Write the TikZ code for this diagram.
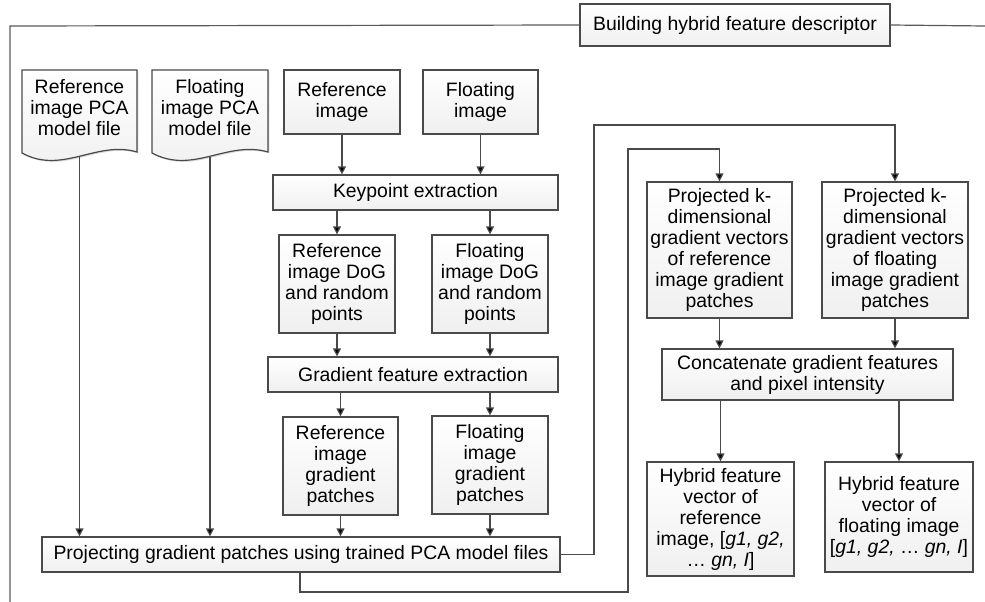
\documentclass[tikz,border=0pt]{standalone}
\usepackage{fontspec}
\setmainfont{Liberation Sans}
\usetikzlibrary{arrows.meta,shadows,calc}
\definecolor{linec}{HTML}{4A4A4A}
\definecolor{framec}{HTML}{5A5A5A}
\newcommand\dfont{\fontsize{19.4}{21}\selectfont}
\begin{document}
\begin{tikzpicture}[x=1pt,y=-1pt,
  shadowsty/.style={drop shadow={shadow xshift=1.4pt, shadow yshift=-1.4pt, opacity=0.25, fill=black!60}},
  box/.style={draw=linec, line width=1.2pt, top color=white, bottom color=black!6, shadowsty,
    align=center, inner sep=0pt, font=\dfont},
  docsty/.style={draw=linec, line width=1.2pt, top color=white, bottom color=black!6, shadowsty},
  txt/.style={align=center, inner sep=0pt, font=\dfont},
  arr/.style={draw=linec, line width=1.2pt, -{Triangle[length=8pt,width=8pt,fill=black]}},
  frame/.style={draw=framec, line width=1.2pt}]
\useasboundingbox (0,0) rectangle (985,602);

% title and frame
\node[box, minimum width=310pt, minimum height=42pt] (title) at (735,25) {Building hybrid feature descriptor};
\draw[frame] (985,26) -- (title.east);
\draw[frame] (title.west) -- (10,26) -- (10,602);

% document shapes
\path[docsty] (22,70) -- (137,70) -- (137,152) .. controls (97,140) and (62,175) .. (22,153) -- cycle;
\node[txt] (refpca) at (79.5,108) {Reference\\image PCA\\model file};
\coordinate (refpcab) at (79.5,157);
\path[docsty] (152,70) -- (268,70) -- (268,152) .. controls (227,140) and (193,175) .. (152,153) -- cycle;
\node[txt] (fltpca) at (210,108) {Floating\\image PCA\\model file};
\coordinate (fltpcab) at (210,157);

% left column
\node[box, minimum width=116pt, minimum height=64pt] (refimg) at (342,102) {Reference\\image};
\node[box, minimum width=115pt, minimum height=64pt] (fltimg) at (480.5,102) {Floating\\image};
\node[box, minimum width=285pt, minimum height=35pt] (keyp) at (415.5,192.5) {Keypoint extraction};
\node[box, minimum width=116pt, minimum height=98pt] (refdog) at (337,284) {Reference\\image DoG\\and random\\points};
\node[box, minimum width=116pt, minimum height=98pt] (fltdog) at (490,284) {Floating\\image DoG\\and random\\points};
\node[box, minimum width=290pt, minimum height=35pt] (grad) at (413,374.5) {Gradient feature extraction};
\node[box, minimum width=115pt, minimum height=98pt] (refgp) at (340.5,466) {Reference\\image\\gradient\\patches};
\node[box, minimum width=116pt, minimum height=98pt] (fltgp) at (490,465) {Floating\\image\\gradient\\patches};
\node[box, minimum width=518pt, minimum height=35pt] (proj) at (301,554.5) {Projecting gradient patches using trained PCA model files};

% right column
\node[box, minimum width=145pt, minimum height=136pt] (projref) at (719.5,250) {Projected k-\\dimensional\\gradient vectors\\of reference\\image gradient\\patches};
\node[box, minimum width=146pt, minimum height=136pt] (projflt) at (895,250) {Projected k-\\dimensional\\gradient vectors\\of floating\\image gradient\\patches};
\node[box, minimum width=291pt, minimum height=51pt] (concat) at (807.5,374.5) {Concatenate gradient features\\and pixel intensity};
\node[box, minimum width=147pt, minimum height=114pt] (hybref) at (720.5,519) {Hybrid feature\\vector of\\reference\\image, [\textit{g1, g2,}\\\ldots{} \textit{gn, I}]};
\node[box, minimum width=148pt, minimum height=110pt] (hybflt) at (899,517) {Hybrid feature\\vector of\\floating image\\{}[\textit{g1, g2,} \ldots{} \textit{gn, I}]};

% connectors
\draw[arr] (refpcab) -- (refpcab |- proj.north);
\draw[arr] (fltpcab) -- (fltpcab |- proj.north);
\draw[arr] (refimg.south) -- (refimg.south |- keyp.north);
\draw[arr] (fltimg.south) -- (fltimg.south |- keyp.north);
\draw[arr] (refdog.north |- keyp.south) -- (refdog.north);
\draw[arr] (fltdog.north |- keyp.south) -- (fltdog.north);
\draw[arr] (refdog.south) -- (refdog.south |- grad.north);
\draw[arr] (fltdog.south) -- (fltdog.south |- grad.north);
\draw[arr] (refgp.north |- grad.south) -- (refgp.north);
\draw[arr] (fltgp.north |- grad.south) -- (fltgp.north);
\draw[arr] (refgp.south) -- (refgp.south |- proj.north);
\draw[arr] (fltgp.south) -- (fltgp.south |- proj.north);

\coordinate (c1) at (594,125);
\draw[arr] (proj.east) -| (c1) -| (projflt.north);
\coordinate (c2) at (300,592);
\coordinate (c3) at (628,149);
\draw[arr] (proj.south -| c2) -- (c2) -| (c3) -| (projref.north);

\draw[arr] (projref.south) -- (projref.south |- concat.north);
\draw[arr] (projflt.south) -- (projflt.south |- concat.north);
\draw[arr] (hybref.north |- concat.south) -- (hybref.north);
\draw[arr] (hybflt.north |- concat.south) -- (hybflt.north);
\end{tikzpicture}
\end{document}
